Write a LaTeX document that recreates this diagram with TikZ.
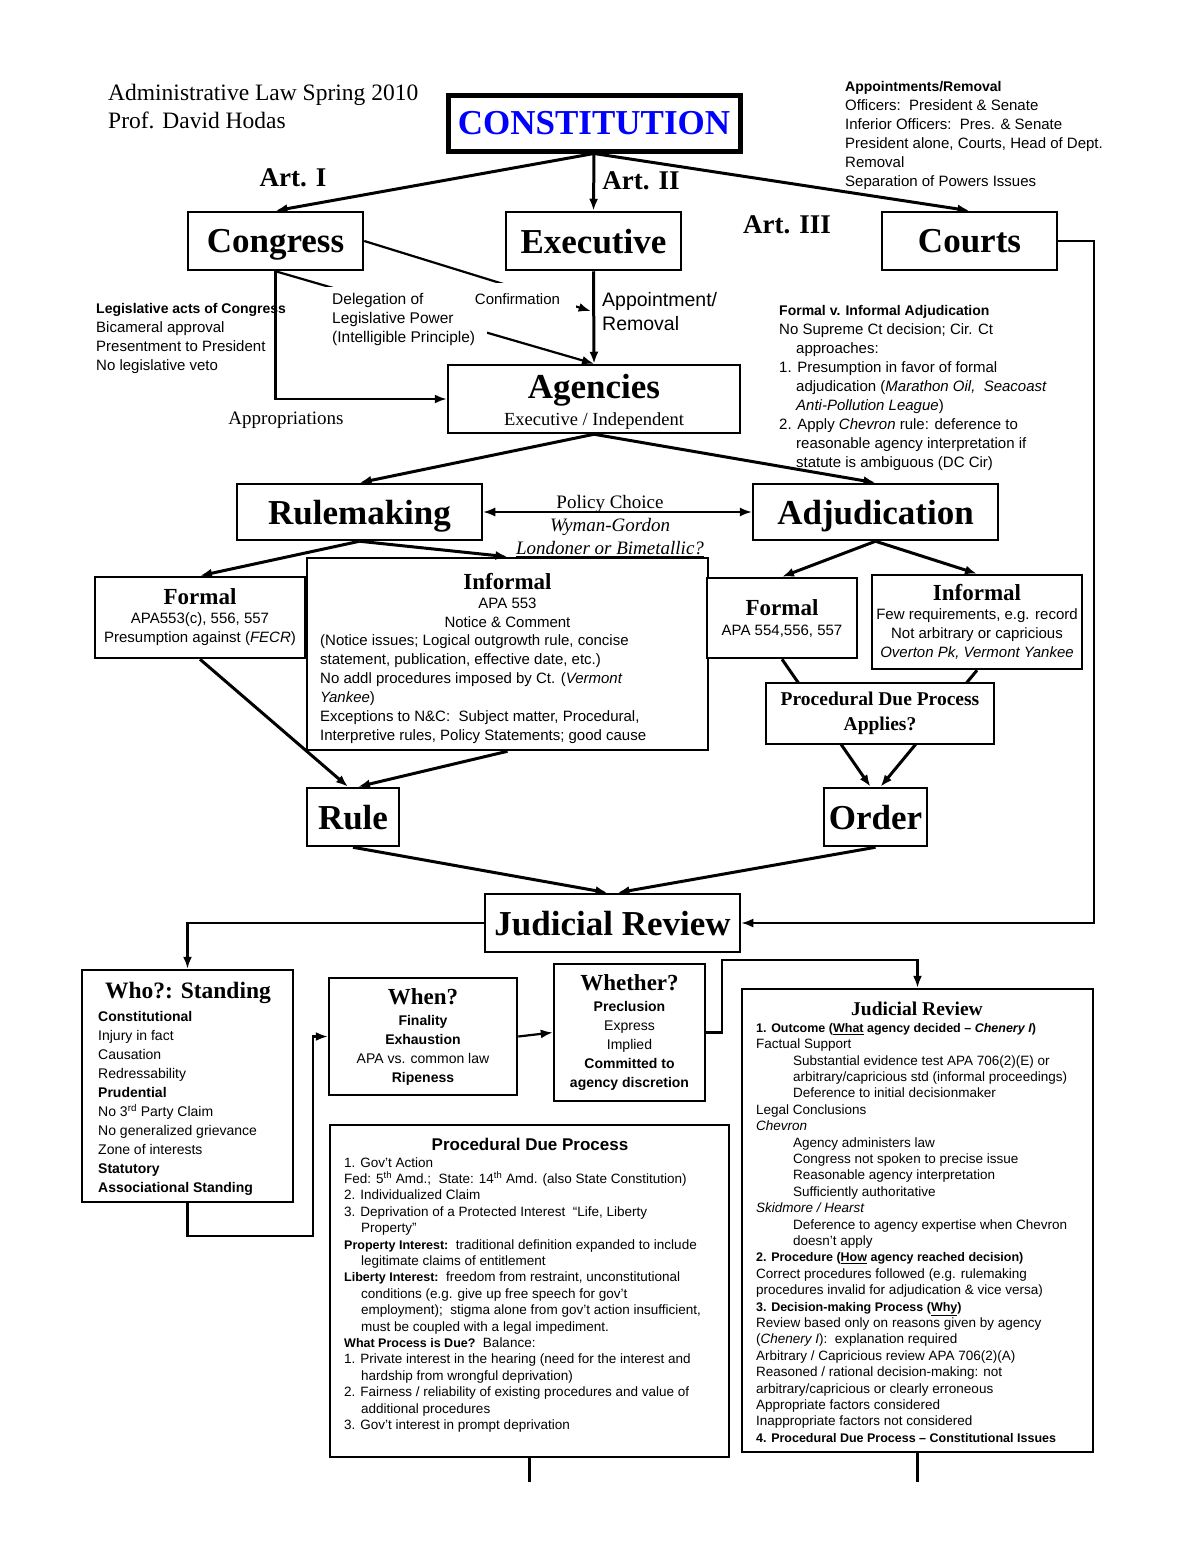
\documentclass[tikz,border=0pt]{standalone}
\usepackage{fontspec}
\setmainfont{Liberation Serif}
\setsansfont{Liberation Sans}
\usetikzlibrary{calc,arrows.meta}
\newcommand{\sz}[2]{\fontsize{#1}{#2}\selectfont}
\newcommand{\hd}[1]{{\rmfamily\bfseries\sz{23}{27}#1}}
\newcommand{\bh}[1]{{\bfseries\sz{12.5}{16.4}#1}}
\newcommand{\ind}{\hspace*{17pt}}
\newcommand{\jind}{\hspace*{37pt}}

\begin{document}
\begin{tikzpicture}[x=1pt, y=-1pt, >={Latex[length=12pt,width=9pt]},
  box/.style={draw, line width=2.5pt, fill=white, inner sep=0pt, align=center},
  head/.style={font=\bfseries\sz{35}{40}, text depth=0pt},
  art/.style={font=\bfseries\sz{27}{30}, inner sep=0pt},
  note/.style={font=\sffamily\sz{15}{19}, align=left, inner sep=0pt},
  fine/.style={font=\sffamily\sz{13.5}{16.4}, align=left, inner sep=0pt},
  policytxt/.style={font=\sz{19}{23}, align=center, inner sep=0pt},
  link/.style={->, line width=3pt},
  wire/.style={line width=2.2pt}]

\useasboundingbox (0,0) rectangle (1200,1553);

% title block
\node [font=\sz{23.5}{28}, align=left, anchor=north west, inner sep=0pt] (hdr) at (108,84) {Administrative Law Spring 2010\\Prof. David Hodas};

\node [box, line width=5pt, minimum width=292, minimum height=56, head, text=blue] (con) at (594,123) {CONSTITUTION};
\node [box, head, minimum width=175, minimum height=58] (cong) at (275.5,241) {Congress};
\node [box, head, minimum width=175, minimum height=58] (exec) at (593.5,241) {Executive};
\node [box, head, minimum width=175, minimum height=58] (court) at (969.5,241) {Courts};

\draw [link] (con.south) -- (cong.north);
\draw [link] (con.south) -- (exec.north);
\draw [link] (con.south) -- (court.north);
\node [art] (art1) at (293,178) {Art. I};
\node [art] (art2) at (641,181) {Art. II};
\node [art] (art3) at (787,225) {Art. III};

% notes
\node [note, anchor=north west] (appt) at (845,81) {{\bfseries\sz{14}{19}Appointments/Removal}\\Officers:\ \ President \& Senate\\Inferior Officers:\ \ Pres. \& Senate\\President alone, Courts, Head of Dept.\\Removal\\Separation of Powers Issues};
\node [note, anchor=north west] (legis) at (96,303) {{\bfseries\sz{14}{19}Legislative acts of Congress}\\Bicameral approval\\Presentment to President\\No legislative veto};

% agencies
\node [box, minimum width=292, minimum height=68] (agen) at (594,399) {};
\node [font=\bfseries\sz{35}{36}, inner sep=0pt] (agent) at (594,390) {Agencies};
\node [font=\sz{18.5}{20}, inner sep=0pt] (agens) at (594,421) {Executive / Independent};

\draw [link, line width=2.2pt] (cong.south) |- (agen.west);
\draw [wire, ->] (cong.south) -- (agen.north);
\draw [wire, ->] (cong.east) -- ($(exec.south)!0.43!(agen.north)+(-3,0)$);
\draw [link] (exec.south) -- (agen.north);

\node [note, font=\sffamily\sz{15.5}{19}, fill=white, inner xsep=12pt, inner ysep=6pt, anchor=north west] (deleg) at (320,287) {Delegation of\\Legislative Power\\(Intelligible Principle)};
\node [note, fill=white, inner xsep=16pt, inner ysep=10pt] (confirm) at (517.5,299) {Confirmation};
\node [note, font=\sffamily\sz{19.5}{24}, anchor=north west] (apprem) at (602,292) {Appointment/\\Removal};
\node [font=\sz{19}{20}, inner sep=0pt] (approp) at (286,420) {Appropriations};

\node [note, anchor=north west] (fvi) at (779,305) {{\bfseries\sz{14}{19}Formal v. Informal Adjudication}\\No Supreme Ct decision; Cir. Ct\\\ind approaches:\\1. Presumption in favor of formal\\\ind adjudication (\textit{Marathon Oil,\ \ Seacoast}\\\ind\textit{Anti-Pollution League})\\2. Apply \textit{Chevron} rule: deference to\\\ind reasonable agency interpretation if\\\ind statute is ambiguous (DC Cir)};

% rulemaking / adjudication
\node [box, head, minimum width=245, minimum height=56] (rule) at (359.5,512) {Rulemaking};
\node [box, head, minimum width=245, minimum height=56] (adj) at (875.5,512) {Adjudication};
\draw [link] (agen.south) -- (rule.north);
\draw [link] (agen.south) -- (adj.north);
\draw [<->, line width=1.5pt] (rule.east) -- (adj.west);
\node [policytxt, anchor=north] (policy) at (610,495) {Policy Choice\\\textit{Wyman-Gordon}\\\underline{\textit{Londoner or Bimetallic?}}};

\node [box, minimum width=210, minimum height=81, font=\sffamily\sz{15}{19}] (rform) at (200,617.5) {\hd{Formal}\\APA553(c), 556, 557\\Presumption against (\textit{FECR})};
\node [box, minimum width=401, minimum height=192] (rinf) at (507.5,654) {};
\node [font=\sffamily\sz{15}{19}, align=center, inner sep=0pt, anchor=north] (rinfhd) at (507.5,573) {\hd{Informal}\\APA 553\\Notice \& Comment};
\node [note, anchor=north west] (rinftxt) at (320,634) {(Notice issues; Logical outgrowth rule, concise\\statement, publication, effective date, etc.)\\No addl procedures imposed by Ct. (\textit{Vermont}\\\textit{Yankee})\\Exceptions to N\&C:\ \ Subject matter, Procedural,\\Interpretive rules, Policy Statements; good cause};

\node [box, minimum width=150, minimum height=80, font=\sffamily\sz{15}{19}] (aform) at (782,618) {\hd{Formal}\\[1pt]APA 554,556, 557};
\node [box, minimum width=210, minimum height=94, font=\sffamily\sz{15}{19}] (ainf) at (977,622) {\hd{Informal}\\Few requirements, e.g. record\\Not arbitrary or capricious\\\textit{Overton Pk, Vermont Yankee}};
\draw [link] (rule.south) -- (rform.north);
\draw [link] (rule.south) -- (rinf.north);
\draw [link] (adj.south) -- (aform.north);
\draw [link] (adj.south) -- (ainf.north);

% rule / order
\node [box, head, minimum width=92, minimum height=58] (rul) at (353,817) {Rule};
\node [box, head, minimum width=103, minimum height=58] (ord) at (875.5,817) {Order};
\draw [link] (rform.south) -- ($(rul.north)+(-5,0)$);
\draw [link] (rinf.south) -- ($(rul.north)+(5,0)$);
\draw [link] (aform.south) -- ($(ord.north)+(-5,0)$);
\draw [link] (ainf.south) -- ($(ord.north)+(5,0)$);
\node [box, minimum width=228, minimum height=61, font=\bfseries\sz{19.5}{25}] (pdpq) at (880,713.5) {Procedural Due Process\\Applies?};

% judicial review
\node [box, head, minimum width=255, minimum height=58] (jr) at (612.5,923) {Judicial Review};
\draw [link] (rul.south) -- ($(jr.north)+(-5,0)$);
\draw [link] (ord.south) -- ($(jr.north)+(5,0)$);
\draw [link, line width=2.2pt] (court.east) -- ++(36,0) |- (jr.east);

\node [box, minimum width=211, minimum height=232] (who) at (187.5,1086) {};
\node [font=\bfseries\sz{23.5}{27}, inner sep=0pt] (whohd) at (188,993) {Who?: Standing};
\node [font=\sffamily\sz{14}{19}, align=left, inner sep=0pt, anchor=north west] (whotxt) at (98,1011) {\textbf{Constitutional}\\Injury in fact\\Causation\\Redressability\\\textbf{Prudential}\\No 3\textsuperscript{rd} Party Claim\\No generalized grievance\\Zone of interests\\\textbf{Statutory}\\\textbf{Associational Standing}};
\draw [link, line width=2.2pt] (jr.west) -| (who.north);

\node [box, minimum width=188, minimum height=117, font=\sffamily\sz{14}{19}] (when) at (423,1036.5) {\hd{When?}\\[2pt]\textbf{Finality}\\\textbf{Exhaustion}\\APA vs. common law\\\textbf{Ripeness}};
\node [box, minimum width=151, minimum height=137, font=\sffamily\sz{14}{19}] (whether) at (629.5,1032.5) {\hd{Whether?}\\[2pt]\textbf{Preclusion}\\Express\\Implied\\\textbf{Committed to}\\\textbf{agency discretion}};
\draw [link, line width=2.2pt] (who.south) -- ++(0,33) -| ($(when.west)+(-15,0)$) -- (when.west);
\draw [link, line width=2.2pt] (when.east) -- (whether.west);

% procedural due process
\node [box, minimum width=399, minimum height=332] (pdp) at (529.5,1291) {};
\node [font=\sffamily\bfseries\sz{17}{20}, inner sep=0pt] (pdphd) at (530,1144) {Procedural Due Process};
\node [fine, anchor=north west] (pdptxt) at (344,1157) {1. Gov’t Action\\Fed: 5\textsuperscript{th} Amd.;\ \ State: 14\textsuperscript{th} Amd. (also State Constitution)\\2. Individualized Claim\\3. Deprivation of a Protected Interest\ \ ``Life, Liberty\\\ind Property''\\\bh{Property Interest:}\ \ traditional definition expanded to include\\\ind legitimate claims of entitlement\\\bh{Liberty Interest:}\ \ freedom from restraint, unconstitutional\\\ind conditions (e.g. give up free speech for gov’t\\\ind employment);\ \ stigma alone from gov’t action insufficient,\\\ind must be coupled with a legal impediment.\\\bh{What Process is Due?}\ \ Balance:\\1. Private interest in the hearing (need for the interest and\\\ind hardship from wrongful deprivation)\\2. Fairness / reliability of existing procedures and value of\\\ind additional procedures\\3. Gov’t interest in prompt deprivation};

% judicial review detail
\node [box, minimum width=351, minimum height=463] (jrx) at (917.5,1220.5) {};
\node [font=\bfseries\sz{19.5}{22}, inner sep=0pt] (jrxhd) at (917,1009) {Judicial Review};
\node [fine, anchor=north west] (jrxtxt) at (756,1023) {\bh{1. Outcome (\underline{What} agency decided -- \textit{Chenery I})}\\Factual Support\\\jind Substantial evidence test APA 706(2)(E) or\\\jind arbitrary/capricious std (informal proceedings)\\\jind Deference to initial decisionmaker\\Legal Conclusions\\\textit{Chevron}\\\jind Agency administers law\\\jind Congress not spoken to precise issue\\\jind Reasonable agency interpretation\\\jind Sufficiently authoritative\\\textit{Skidmore / Hearst}\\\jind Deference to agency expertise when Chevron\\\jind doesn’t apply\\\bh{2. Procedure (\underline{How} agency reached decision)}\\Correct procedures followed (e.g. rulemaking\\procedures invalid for adjudication \& vice versa)\\\bh{3. Decision-making Process (\underline{Why})}\\Review based only on reasons given by agency\\(\textit{Chenery I}):\ \ explanation required\\Arbitrary / Capricious review APA 706(2)(A)\\Reasoned / rational decision-making: not\\arbitrary/capricious or clearly erroneous\\Appropriate factors considered\\Inappropriate factors not considered\\\bh{4. Procedural Due Process -- Constitutional Issues}};
\draw [link, line width=2.2pt] (whether.east) -- ++(16,0) |- ($(jrx.north)+(0,-28)$) -- (jrx.north);

% loose ends
\coordinate (pdpend) at (529.5,1482);
\coordinate (jrxend) at (917.5,1482);
\draw [wire] (pdp.south) -- (pdpend);
\draw [wire] (jrx.south) -- (jrxend);
\end{tikzpicture}
\end{document}
